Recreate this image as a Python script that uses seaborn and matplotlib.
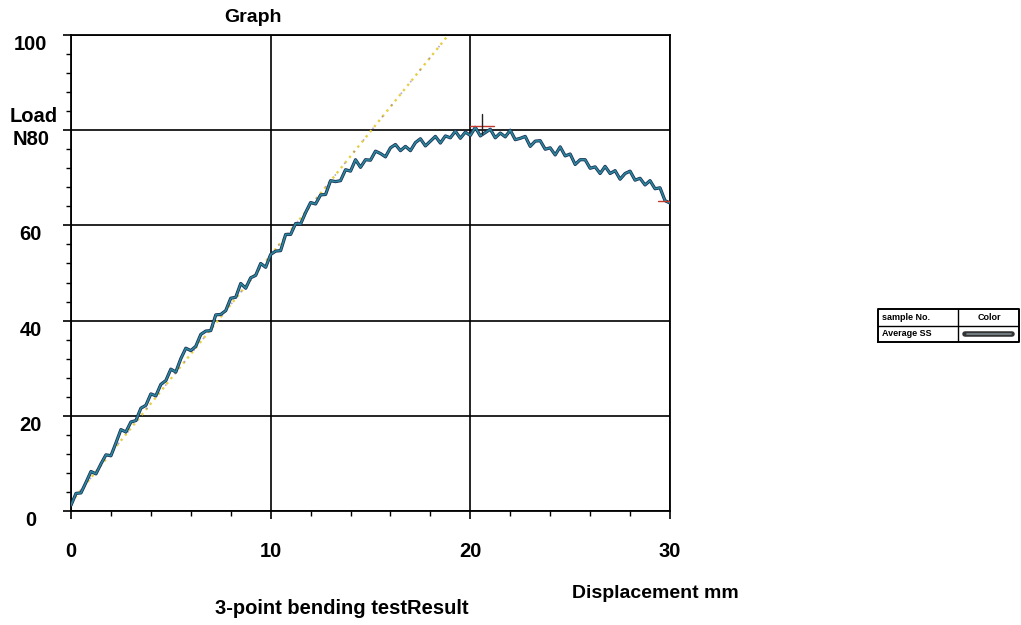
import numpy as np
import pandas as pd
import matplotlib
matplotlib.use("Agg")
import matplotlib.pyplot as plt
from matplotlib.ticker import MultipleLocator
import seaborn as sns

# ---- data -------------------------------------------------------------
displacement = np.arange(0, 30.001, 0.25)          # mm, sampling grid
load = [
    1.2, 3.7, 3.8, 6.0, 8.3, 7.8, 9.9, 11.8, 11.6, 14.3,
    17.1, 16.6, 18.7, 19.0, 21.6, 22.2, 24.6, 24.2, 26.6, 27.4,
    29.8, 29.2, 32.0, 34.2, 33.7, 34.6, 37.1, 37.8, 37.9, 41.2,
    41.3, 42.1, 44.7, 44.9, 47.8, 46.8, 49.0, 49.5, 52.0, 51.2,
    53.9, 54.6, 54.7, 58.1, 58.1, 60.4, 60.3, 62.7, 64.8, 64.5,
    66.4, 66.5, 69.4, 69.2, 69.4, 71.7, 71.4, 73.8, 72.2, 73.8,
    73.7, 75.6, 75.1, 74.4, 76.3, 77.0, 75.7, 76.6, 75.7, 77.4,
    78.2, 76.7, 77.7, 78.7, 77.3, 78.8, 78.4, 79.8, 78.3, 79.6,
    78.9, 80.6, 78.8, 79.5, 80.2, 78.4, 79.4, 78.6, 80.0, 78.0,
    78.3, 78.7, 76.6, 77.7, 77.8, 76.0, 76.3, 74.8, 76.5, 74.6,
    75.0, 72.8, 73.8, 73.8, 72.0, 72.3, 70.9, 72.4, 70.9, 71.5,
    69.7, 70.9, 71.4, 69.5, 69.9, 68.5, 69.4, 67.7, 67.9, 65.2,
    64.7,
]
# elastic-region fit line
fit_x = [0.0, 18.9]
fit_y = [1.8, 100.0]
# maximum-load marker and break point
peak_x, peak_y = 20.6, 80.8
end_x, end_y = 29.8, 65.2

x_ticks = [0, 10, 20, 30]
y_ticks = [0, 20, 40, 60, 80, 100]
y_tick_labels = ["0", "20", "40", "60", "N80", "100"]

df = pd.DataFrame({"Displacement": displacement, "Load": load})

# ---- style ------------------------------------------------------------
sns.set_theme(style="white")
plt.rcParams["font.family"] = ["Liberation Sans", "DejaVu Sans"]
plt.rcParams["font.weight"] = "bold"
plt.rcParams["text.color"] = "black"

W, H = 1021, 625
fig = plt.figure(figsize=(W / 100, H / 100), dpi=100)
fig.patch.set_facecolor("white")
ax = fig.add_axes([71 / W, 1 - 511 / H, (670 - 71) / W, (511 - 35) / H])
ax.set_facecolor("white")

# fit line under the curve
ax.plot(fit_x, fit_y, color="#e6cf45", lw=1.7, ls=(0, (1, 1.8)), zorder=2)
ax.plot(fit_x, fit_y, color="#8a6fb5", lw=1.2, ls=(0, (1, 8)), alpha=0.6, zorder=2)

# load-displacement curve
sns.lineplot(data=df, x="Displacement", y="Load", ax=ax, color="#1a2d57",
             lw=2.3, estimator=None, zorder=3)
sns.lineplot(data=df, x="Displacement", y="Load", ax=ax, color="#2b8799",
             lw=1.2, estimator=None, zorder=4)

# max-load marker
ax.plot([peak_x - 0.6, peak_x + 0.6], [peak_y, peak_y], color="#c0392b", lw=1.0, zorder=5)
ax.plot([peak_x, peak_x], [peak_y - 1.6, peak_y + 2.5], color="#222222", lw=1.0, zorder=5)
ax.plot([end_x - 0.4, end_x + 0.2], [end_y, end_y], color="#c0392b", lw=1.0, zorder=5)

ax.set_xlim(0, 30)
ax.set_ylim(0, 100)
ax.xaxis.set_minor_locator(MultipleLocator(2))
ax.yaxis.set_minor_locator(MultipleLocator(4))
ax.set_xticks(x_ticks)
ax.set_yticks(y_ticks)
ax.set_yticklabels(y_tick_labels, ha="center", va="top")

ax.grid(True, which="major", color="black", lw=1.2)
for s in ax.spines.values():
    s.set_visible(True)
    s.set_color("black")
    s.set_linewidth(1.3)

ax.tick_params(axis="both", which="both", bottom=True, left=True,
               top=False, right=False)
ax.tick_params(axis="both", which="major", direction="out", length=6,
               width=1.2, color="black", labelsize=14.5, labelcolor="black")
ax.tick_params(axis="both", which="minor", direction="out", length=3.5,
               width=1.0, color="black")
ax.tick_params(axis="y", which="major", pad=23)
ax.tick_params(axis="x", which="major", pad=16)
ax.set_xlabel("")
ax.set_ylabel("")

# ---- titles / labels --------------------------------------------------
fig.text(253 / W, 1 - 17 / H, "Graph", ha="center", va="center",
         fontsize=14, fontweight="bold", color="black")
fig.text(34 / W, 1 - 116 / H, "Load", ha="center", va="center",
         fontsize=14.5, fontweight="bold", color="black")
fig.text(655 / W, 1 - 594 / H, "Displacement mm", ha="center", va="center",
         fontsize=14, fontweight="bold", color="black")
fig.text(342 / W, 1 - 608 / H, "3-point bending testResult", ha="center",
         va="center", fontsize=14.5, fontweight="bold", color="black")

# ---- sample / colour table --------------------------------------------
lg = fig.add_axes([878 / W, 1 - 342 / H, 141 / W, 33 / H])
lg.set_xlim(0, 1)
lg.set_ylim(0, 1)
lg.axis("off")
lg.plot([0, 1, 1, 0, 0], [0, 0, 1, 1, 0], color="black", lw=1.4, clip_on=False)
lg.plot([0, 1], [0.5, 0.5], color="black", lw=1.0)
lg.plot([0.57, 0.57], [0, 1], color="black", lw=1.0)
lg.text(0.03, 0.75, "sample No.", fontsize=6.5, fontweight="bold", va="center")
lg.text(0.79, 0.74, "Color", fontsize=6.5, fontweight="bold", va="center", ha="center")
lg.text(0.03, 0.26, "Average SS", fontsize=6.5, fontweight="bold", va="center")
lg.plot([0.62, 0.95], [0.25, 0.25], color="#333333", lw=4.0, solid_capstyle="round")
lg.plot([0.63, 0.94], [0.25, 0.25], color="#7d8a90", lw=1.2, solid_capstyle="round")

fig.savefig("out.png", dpi=100, facecolor="white")
